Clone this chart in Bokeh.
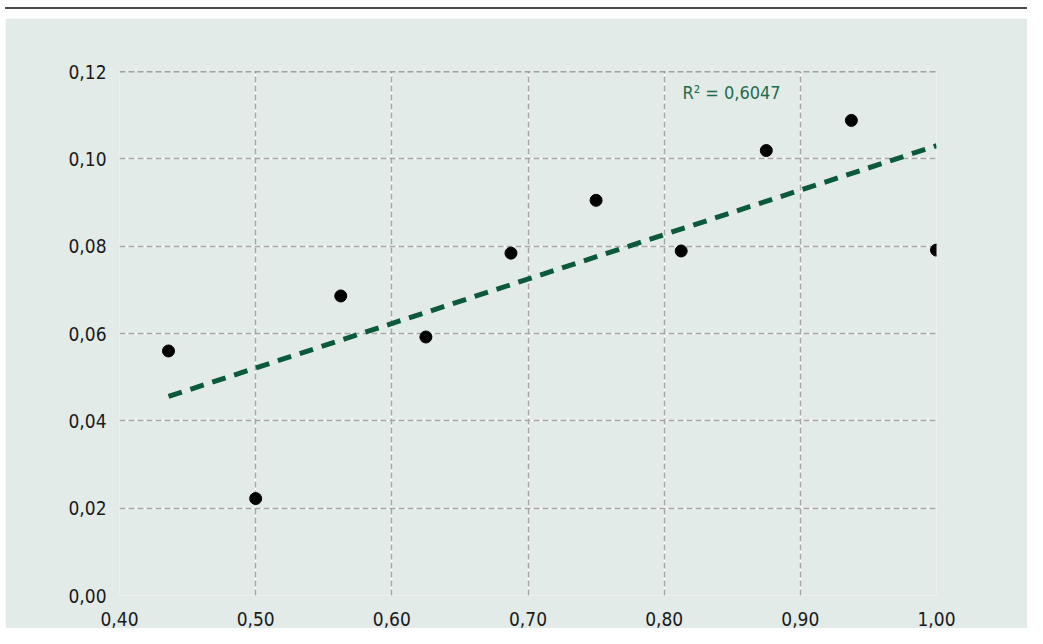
import numpy as np
from bokeh.plotting import figure
from bokeh.models import FixedTicker, Grid, Span, Label, Div
from bokeh.layouts import column
from bokeh.embed import file_html
from bokeh.resources import INLINE

# ---- data ----
x_vals = [0.436, 0.500, 0.5625, 0.625, 0.6875, 0.750, 0.8125, 0.875, 0.9375, 1.000]
y_vals = [0.0560, 0.0222, 0.0686, 0.0592, 0.0784, 0.0905, 0.0789, 0.1019, 0.1088, 0.0791]

x_ticks = [0.40, 0.50, 0.60, 0.70, 0.80, 0.90, 1.00]
x_tick_labels = ["0,40", "0,50", "0,60", "0,70", "0,80", "0,90", "1,00"]
y_ticks = [0.00, 0.02, 0.04, 0.06, 0.08, 0.10, 0.12]
y_tick_labels = ["0,00", "0,02", "0,04", "0,06", "0,08", "0,10", "0,12"]

r2_text = "R² = 0,6047"
r2_x = 0.8134
r2_y = 0.1151

# ---- styles ----
FONT = "DejaVu Sans Condensed"
PANEL = "#e3ebe8"
TEXT = "#1a1a1a"
GREEN_LINE = "#0b5a3c"
GREEN_TEXT = "#1f6b4b"
W = 1027

slope, intercept = np.polyfit(x_vals, y_vals, 1)
trend_x = [min(x_vals), max(x_vals)]
trend_y = [slope * v + intercept for v in trend_x]

# dark rule above the panel (2px bar inside an 18px white strip)
top = Div(text="", width=W - 5, height=2, margin=(7, 0, 9, 5),
          styles={"background-color": "#4a4a4a"})

p = figure(width=W - 5, height=610, x_range=(0.40, 1.00), y_range=(0.0, 0.12),
           output_backend="svg", toolbar_location=None, margin=(0, 0, 0, 5),
           min_border_left=114, min_border_right=91, min_border_top=53, min_border_bottom=32,
           background_fill_color=PANEL, border_fill_color=PANEL, outline_line_color=None)

xt = FixedTicker(ticks=x_ticks)
yt = FixedTicker(ticks=y_ticks)
p.xaxis.ticker = xt
p.yaxis.ticker = yt
p.xaxis.major_label_overrides = dict(zip(x_ticks, x_tick_labels))
p.yaxis.major_label_overrides = dict(zip(y_ticks, y_tick_labels))
for ax in (p.xaxis[0], p.yaxis[0]):
    ax.axis_line_color = None
    ax.major_tick_line_color = None
    ax.minor_tick_line_color = None
    ax.major_label_text_font = FONT
    ax.major_label_text_font_size = "19px"
    ax.major_label_text_color = TEXT
p.xaxis.major_label_standoff = 10
p.yaxis.major_label_standoff = 7

# white underlay grid, gray dashes on top
p.xgrid.ticker = xt
p.ygrid.ticker = yt
p.xgrid.grid_line_color = "white"
p.ygrid.grid_line_color = "white"
p.xgrid.grid_line_width = 1.5
p.ygrid.grid_line_width = 1.5
p.add_layout(Grid(dimension=0, ticker=xt, grid_line_color="#a6a6a6",
                  grid_line_width=1.5, grid_line_dash="6 3"))
p.add_layout(Grid(dimension=1, ticker=yt, grid_line_color="#a6a6a6",
                  grid_line_width=1.5, grid_line_dash="6 3"))
p.add_layout(Span(location=y_ticks[-1], dimension="width", line_color="#555555",
                  line_width=1.5, line_dash="6 3"))

p.line(trend_x, trend_y, line_color=GREEN_LINE, line_width=5, line_dash="14 9")
p.scatter(x_vals, y_vals, size=12, color="black")

p.add_layout(Label(x=r2_x, y=r2_y, text=r2_text, text_font=FONT,
                   text_font_size="18px", text_color=GREEN_TEXT,
                   text_baseline="alphabetic"))

layout = column(top, p, spacing=0)
open("out.html", "w").write(file_html(layout, INLINE))
